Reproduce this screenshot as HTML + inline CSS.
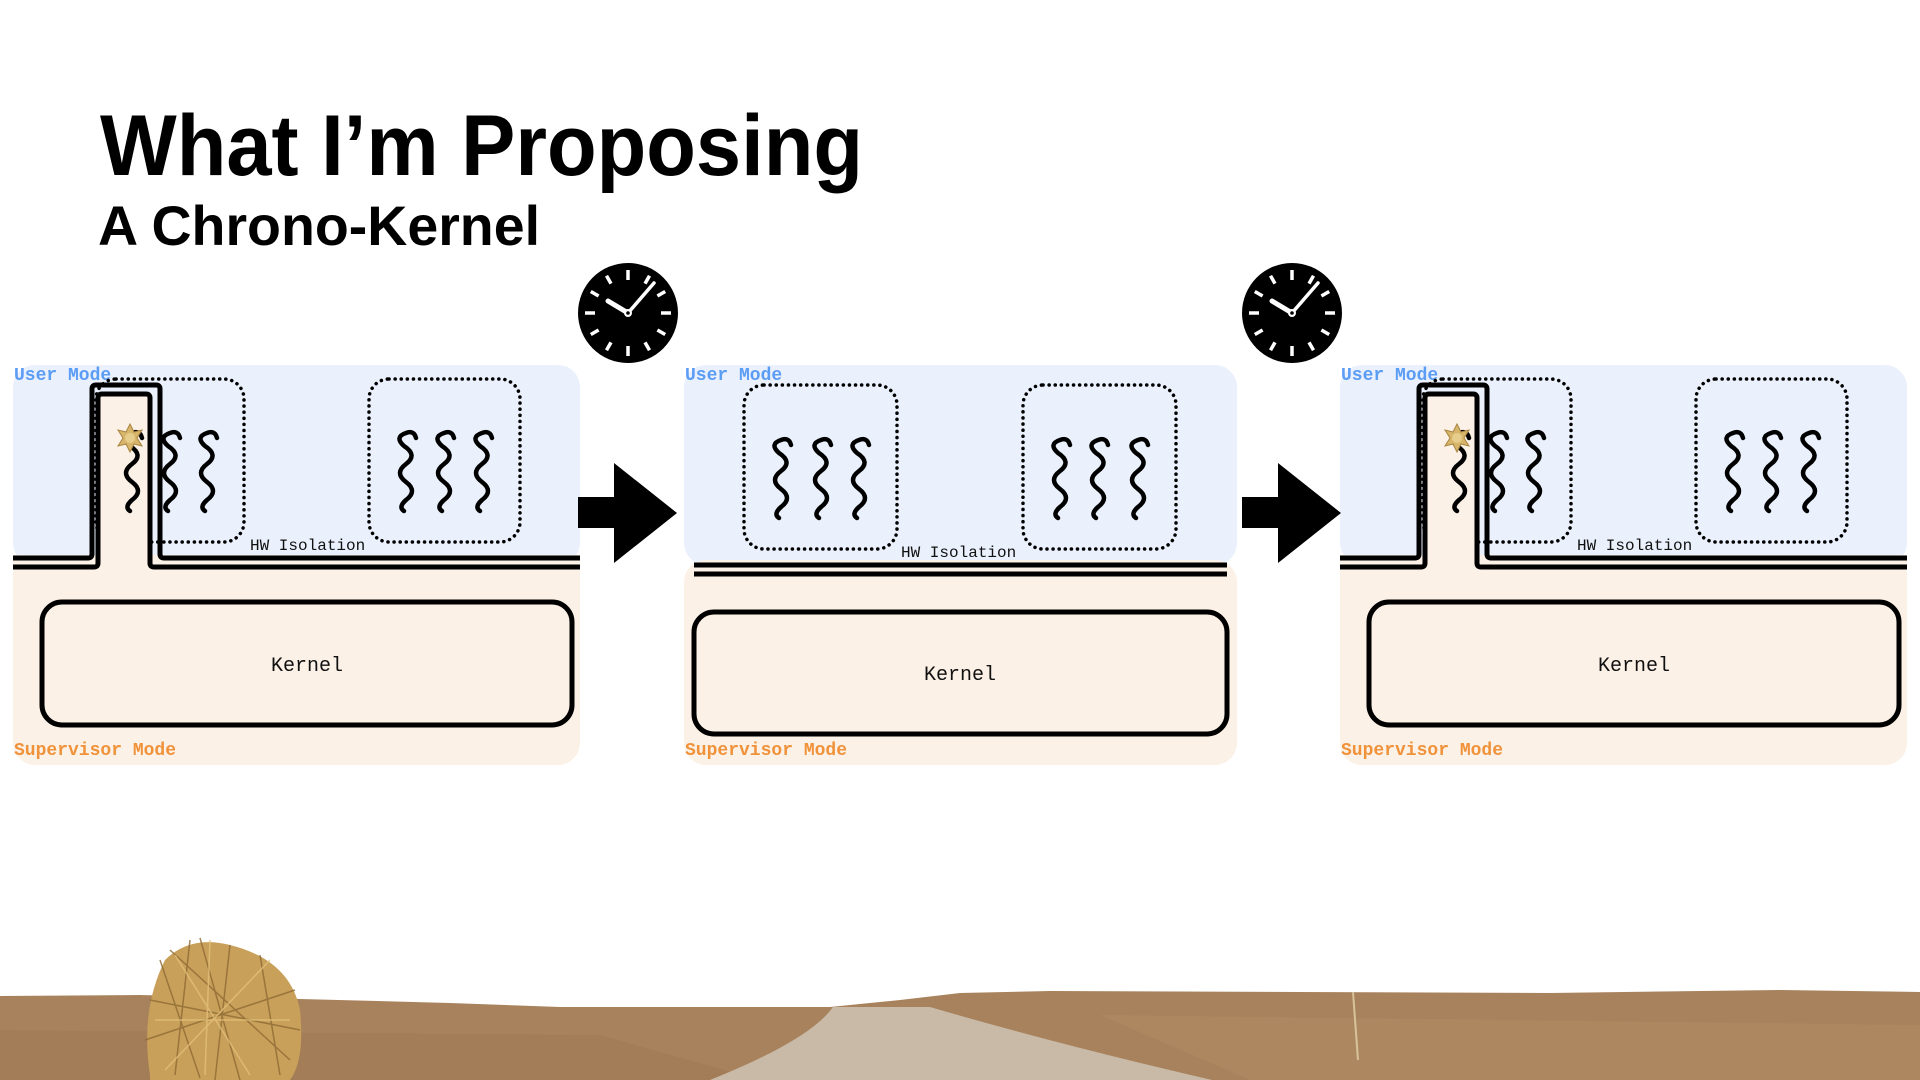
<!DOCTYPE html>
<html><head><meta charset="utf-8"><style>
html,body{margin:0;padding:0;background:#fff;}
svg{display:block;}
.um{font-family:"Liberation Mono",monospace;font-weight:bold;font-size:18px;fill:#5B9CF5;}
.sm{font-family:"Liberation Mono",monospace;font-weight:bold;font-size:18px;fill:#F0923A;}
.hw{font-family:"Liberation Mono",monospace;font-size:16px;fill:#111;}
.kn{font-family:"Liberation Mono",monospace;font-size:20px;fill:#111;}
.sq{fill:none;stroke:#000;stroke-width:4.5;stroke-linecap:round;}
.dot{fill:none;stroke:#000;stroke-width:3.5;stroke-dasharray:0.1 6;stroke-linecap:round;}
.ln{fill:none;stroke:#000;stroke-width:5;stroke-linejoin:round;}
</style></head><body>
<svg width="1920" height="1080" viewBox="0 0 1920 1080" xmlns="http://www.w3.org/2000/svg">
<defs>
<path id="sq" d="M10,5 Q8,-3 0,0 Q-12,4 -2,13 Q12,22 0,31 Q-12,40 0,49 Q12,58 0,67 Q-8,74 -2,78" class="sq"/>
<g id="clock">
<circle r="50" fill="#000"/>
<g stroke="#fff" stroke-width="3.5" stroke-linecap="butt">
<line x1="0" y1="-43" x2="0" y2="-33"/><line x1="0" y1="43" x2="0" y2="33"/>
<line x1="-43" y1="0" x2="-33" y2="0"/><line x1="43" y1="0" x2="33" y2="0"/>
<line x1="21.5" y1="-37.2" x2="17" y2="-29.4"/><line x1="37.2" y1="-21.5" x2="29.4" y2="-17"/>
<line x1="37.2" y1="21.5" x2="29.4" y2="17"/><line x1="21.5" y1="37.2" x2="17" y2="29.4"/>
<line x1="-21.5" y1="-37.2" x2="-17" y2="-29.4"/><line x1="-37.2" y1="-21.5" x2="-29.4" y2="-17"/>
<line x1="-37.2" y1="21.5" x2="-29.4" y2="17"/><line x1="-21.5" y1="37.2" x2="-17" y2="29.4"/>
</g>
<line x1="0" y1="0" x2="-20" y2="-12" stroke="#fff" stroke-width="5" stroke-linecap="round"/>
<line x1="0" y1="0" x2="26" y2="-30" stroke="#fff" stroke-width="3.5" stroke-linecap="round"/>
<circle r="4" fill="#fff"/><circle r="1.8" fill="#000"/>
</g>
<g id="star">
<polygon points="0,-14 4,-6 12,-8 7,0 12,8 4,6 0,14 -4,6 -12,8 -7,0 -12,-8 -4,-6" fill="#D7B56A" stroke="#A88440" stroke-width="1"/>
<circle r="5" fill="#E6CD8C"/>
</g>
<g id="panelA">
<rect x="13" y="365" width="567" height="200" rx="22" fill="#EAF1FC"/>
<rect x="13" y="555" width="567" height="210" rx="22" fill="#FCF1E6"/>
<rect x="13" y="555" width="567" height="30" fill="#FCF1E6"/>
<text x="14" y="380" class="um">User Mode</text>
<rect x="96" y="379" width="148" height="163" rx="20" class="dot"/>
<rect x="369" y="379" width="151" height="163" rx="20" class="dot"/>
<rect x="98" y="394" width="52" height="170" fill="#FCF1E6"/>
<path d="M13,558 H88 Q92,558 92,554 V389 Q92,385 96,385 H156 Q160,385 160,389 V554 Q160,558 164,558 H580" class="ln"/>
<path d="M13,567 H94 Q98,567 98,563 V398 Q98,394 102,394 H146 Q150,394 150,398 V563 Q150,567 154,567 H580" class="ln"/>
<use href="#sq" x="132" y="433"/><use href="#sq" x="170" y="433"/><use href="#sq" x="207" y="433"/>
<use href="#sq" x="406" y="433"/><use href="#sq" x="444" y="433"/><use href="#sq" x="482" y="433"/>
<use href="#star" x="130" y="438"/>
<text x="250" y="550" class="hw">HW Isolation</text>
<rect x="42" y="602" width="530" height="123" rx="20" fill="none" stroke="#000" stroke-width="5"/>
<text x="307" y="671" class="kn" text-anchor="middle">Kernel</text>
<text x="14" y="755" class="sm">Supervisor Mode</text>
</g>
</defs>

<text x="100" y="175" font-family="Liberation Sans, sans-serif" font-weight="bold" font-size="86" textLength="763" lengthAdjust="spacingAndGlyphs">What I’m Proposing</text>
<text x="98" y="245" font-family="Liberation Sans, sans-serif" font-weight="bold" font-size="56" textLength="442" lengthAdjust="spacingAndGlyphs">A Chrono-Kernel</text>

<use href="#panelA"/>
<use href="#panelA" x="1327"/>

<!-- panel 2 -->
<rect x="684" y="365" width="553" height="200" rx="22" fill="#EAF1FC"/>
<rect x="684" y="560" width="553" height="205" rx="22" fill="#FCF1E6"/>
<text x="685" y="380" class="um">User Mode</text>
<rect x="744" y="385" width="153" height="164" rx="20" class="dot"/>
<rect x="1023" y="385" width="153" height="164" rx="20" class="dot"/>
<use href="#sq" x="781" y="440"/><use href="#sq" x="821" y="440"/><use href="#sq" x="859" y="440"/>
<use href="#sq" x="1060" y="440"/><use href="#sq" x="1098" y="440"/><use href="#sq" x="1138" y="440"/>
<text x="901" y="557" class="hw">HW Isolation</text>
<line x1="694" y1="565" x2="1227" y2="565" stroke="#000" stroke-width="5"/>
<line x1="694" y1="574" x2="1227" y2="574" stroke="#000" stroke-width="5"/>
<rect x="694" y="612" width="533" height="122" rx="20" fill="none" stroke="#000" stroke-width="5"/>
<text x="960" y="680" class="kn" text-anchor="middle">Kernel</text>
<text x="685" y="755" class="sm">Supervisor Mode</text>

<!-- arrows -->
<polygon points="578,497 614,497 614,463 677,513 614,563 614,528 578,528" fill="#000"/>
<polygon points="1242,497 1278,497 1278,463 1341,513 1278,563 1278,528 1242,528" fill="#000"/>

<use href="#clock" x="628" y="313"/>
<use href="#clock" x="1292" y="313"/>

<!-- landscape -->
<path d="M0,996 L140,995 L300,999 L450,1003 L560,1007 L830,1007 L900,1000 L960,993 L1050,991 L1300,992 L1550,993 L1780,990 L1920,992 L1920,1080 L0,1080 Z" fill="#A8825C"/>
<path d="M0,1030 L600,1035 L760,1080 L0,1080Z" fill="#9C7752" opacity="0.45"/>
<path d="M1100,1015 L1920,1025 L1920,1080 L1250,1080Z" fill="#B08B63" opacity="0.5"/>
<path d="M833,1007 L930,1007 Q1060,1045 1212,1080 L710,1080 Q810,1040 833,1007Z" fill="#C9BAA7"/>
<line x1="1353" y1="992" x2="1358" y2="1060" stroke="#D6C39A" stroke-width="2"/>
<path d="M150,1075 Q140,1010 165,960 Q190,935 230,945 Q290,960 300,1010 Q305,1060 290,1080 L150,1080Z" fill="#C9A05A"/>
<g stroke="#8E6A34" stroke-width="1.5" fill="none" opacity="0.8">
<path d="M160,960 L200,1078"/><path d="M190,940 L175,1075"/><path d="M230,945 L215,1080"/><path d="M260,955 L280,1075"/><path d="M150,1000 L300,1030"/><path d="M145,1040 L295,990"/><path d="M170,950 L290,1060"/><path d="M200,938 L240,1080"/>
</g>
<g stroke="#E2C07A" stroke-width="1.5" fill="none" opacity="0.8">
<path d="M175,955 L250,1075"/><path d="M155,1020 L290,1020"/><path d="M270,960 L165,1070"/><path d="M210,940 L205,1075"/>
</g>
</svg>
</body></html>
